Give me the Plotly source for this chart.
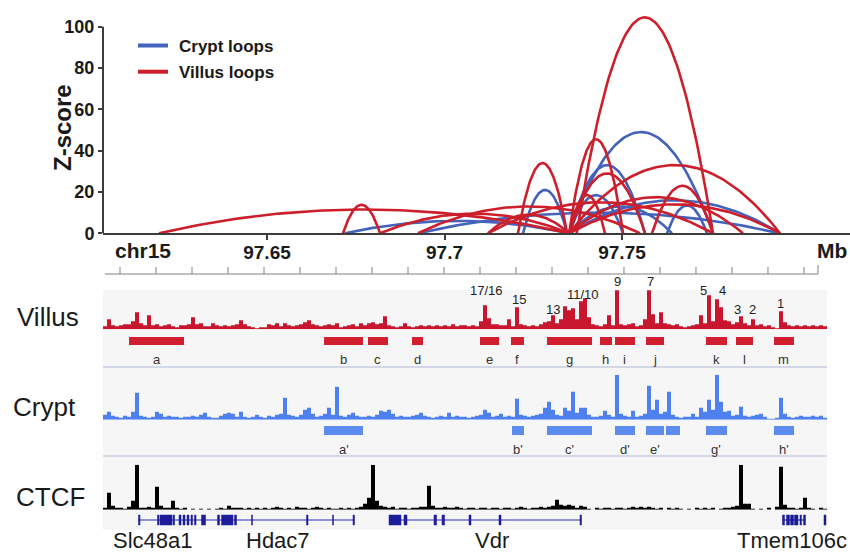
import plotly.graph_objects as go

# ---------------- data ----------------
# loops: (anchor 1 [Mb], anchor 2 [Mb], Z-score)
CRYPT_LOOPS = [
    (97.67197, 97.73510, 6.0),
    (97.72211, 97.73451, 21.0),
    (97.73510, 97.77563, 49.0),
    (97.73510, 97.75648, 33.0),
    (97.73510, 97.79451, 16.0),
    (97.76268, 97.77394, 13.5),
    (97.73510, 97.75028, 18.5),
    (97.73510, 97.76408, 13.0),
    (97.69254, 97.79451, 10.0),
]
VILLUS_LOOPS = [
    (97.61958, 97.73510, 11.5),
    (97.67141, 97.68183, 13.8),
    (97.68183, 97.73510, 9.5),
    (97.69254, 97.75507, 13.0),
    (97.71225, 97.73510, 9.0),
    (97.71225, 97.77563, 15.0),
    (97.72070, 97.73451, 34.0),
    (97.73510, 97.75028, 45.5),
    (97.73724, 97.77563, 104.5),
    (97.73510, 97.79451, 33.0),
    (97.75845, 97.77563, 23.0),
    (97.73510, 97.78408, 17.5),
    (97.73510, 97.75648, 29.0),
    (97.73510, 97.74521, 18.5),
    (97.73510, 97.79451, 14.0),
]
Z_TICKS = [0, 20, 40, 60, 80, 100]
MB_TICKS = [97.65, 97.70, 97.75]
MB_TICK_LABELS = ["97.65", "97.7", "97.75"]

# coverage tracks (bins of ~1.13 kb starting at SIGNAL_START)
SIGNAL_START = 97.60380
SIGNAL_BIN = 0.0011268
VILLUS_SIGNAL = [
    3, 10, 4, 3, 4, 5, 5, 8, 17, 6,
    4, 14, 4, 5, 3, 4, 5, 3, 2, 4,
    4, 5, 12, 5, 6, 3, 3, 6, 4, 3,
    4, 3, 4, 5, 9, 5, 3, 2, 1, 2,
    2, 5, 4, 6, 3, 6, 4, 3, 4, 5,
    7, 9, 5, 4, 3, 4, 5, 4, 6, 2,
    3, 4, 5, 3, 6, 4, 6, 7, 5, 6,
    13, 4, 3, 2, 3, 6, 3, 2, 3, 4,
    3, 4, 3, 4, 3, 4, 3, 5, 3, 4,
    4, 3, 4, 3, 8, 24, 11, 5, 5, 4,
    4, 10, 3, 22, 5, 4, 3, 4, 3, 5,
    7, 8, 14, 6, 10, 23, 19, 21, 10, 28,
    31, 12, 5, 4, 3, 5, 14, 4, 39, 5,
    4, 5, 6, 3, 4, 10, 39, 15, 6, 17,
    6, 5, 4, 5, 3, 2, 3, 4, 5, 14,
    6, 34, 8, 30, 22, 9, 8, 5, 7, 13,
    6, 4, 10, 4, 5, 3, 4, 2, 1, 18,
    7, 4, 3, 4, 3, 4, 3, 4, 3, 4, 3,
]
CRYPT_SIGNAL = [
    5, 8, 4, 3, 2, 4, 3, 8, 27, 4,
    3, 2, 3, 8, 6, 3, 4, 3, 3, 2,
    3, 3, 4, 3, 5, 7, 3, 2, 2, 4,
    6, 7, 6, 3, 8, 3, 2, 3, 5, 3,
    2, 4, 3, 5, 6, 22, 5, 4, 3, 5,
    10, 12, 6, 3, 4, 6, 12, 5, 33, 4,
    3, 5, 7, 4, 3, 3, 4, 3, 5, 9,
    8, 10, 6, 3, 4, 3, 3, 4, 5, 7,
    4, 3, 2, 3, 4, 3, 7, 3, 4, 3,
    3, 2, 3, 4, 5, 10, 7, 3, 4, 6,
    3, 4, 3, 21, 5, 4, 3, 4, 5, 6,
    12, 18, 10, 5, 4, 12, 9, 28, 7, 12,
    12, 5, 3, 3, 4, 9, 5, 3, 45, 6,
    4, 3, 9, 3, 4, 6, 34, 10, 20, 6,
    8, 28, 5, 3, 2, 3, 3, 6, 3, 12,
    8, 20, 10, 45, 18, 8, 9, 4, 5, 13,
    4, 3, 4, 5, 6, 3, 1, 0.5, 2, 22,
    6, 3, 2, 3, 4, 3, 3, 4, 3, 4, 2,
]
CTCF_SIGNAL = [
    2, 17, 4, 2, 2, 1, 3, 9, 45, 2,
    2, 3, 2, 23, 4, 2, 2, 9, 2, 1,
    2, 0, 1, 0, 1, 0, 1, 0, 1, 2,
    1, 4, 2, 2, 2, 1, 2, 1, 2, 1,
    2, 1, 2, 3, 2, 1, 2, 1, 3, 2,
    2, 1, 2, 3, 2, 1, 2, 1, 1, 2,
    1, 2, 1, 2, 3, 6, 12, 45, 9, 4,
    3, 2, 3, 1, 2, 2, 1, 2, 2, 3,
    3, 24, 4, 2, 2, 3, 2, 2, 3, 2,
    1, 2, 2, 1, 2, 2, 1, 2, 2, 1,
    2, 2, 1, 2, 3, 2, 1, 2, 2, 3,
    2, 3, 4, 10, 5, 4, 5, 4, 2, 4,
    3, 1, 0, 2, 1, 2, 2, 1, 2, 2,
    1, 2, 3, 2, 3, 2, 3, 2, 1, 2,
    0, 2, 1, 2, 1, 0, 1, 0, 2, 1,
    2, 1, 2, 0, 1, 2, 2, 3, 4, 45,
    6, 6, 1, 0, 1, 0, 2, 0, 3, 43,
    5, 2, 2, 1, 2, 12, 2, 1, 0, 2, 1,
]

VILLUS_REGIONS = [
    ("a", 97.61113, 97.62662), ("b", 97.66606, 97.67704), ("c", 97.67845, 97.68408),
    ("d", 97.69085, 97.69394), ("e", 97.71000, 97.71535), ("f", 97.71873, 97.72239),
    ("g", 97.72887, 97.74155), ("h", 97.74380, 97.74718), ("i", 97.74803, 97.75366),
    ("j", 97.75676, 97.76183), ("k", 97.77366, 97.77958), ("l", 97.78211, 97.78690),
    ("m", 97.79282, 97.79845),
]
CRYPT_REGIONS = [
    ("a'", 97.66606, 97.67704), ("b'", 97.71901, 97.72239), ("c'", 97.72887, 97.74155),
    ("d'", 97.74803, 97.75366), ("e'", 97.75676, 97.76183), ("", 97.76239, 97.76634),
    ("g'", 97.77366, 97.77958), ("h'", 97.79282, 97.79845),
]
VILLUS_PEAKS = [
    ("17/16", 97.71189), ("15", 97.72099), ("13", 97.73065), ("11/10", 97.73910),
    ("9", 97.74879), ("7", 97.75817), ("5", 97.77296), ("4", 97.77837),
    ("3", 97.78248), ("2", 97.78670), ("1", 97.79451),
]
PEAK_LABEL_Y_PX = [290, 299, 309, 294.3, 281.7, 281.7, 290, 290, 309, 309, 303.3]

GENES = [  # (name, start, end)
    ("Slc48a1", 97.61380, 97.63268),
    ("Hdac7", 97.63268, 97.67465),
    ("Vdr", 97.68437, 97.73859),
    ("Tmem106c", 97.79521, 97.80169),
]
GENE_LABELS = [("Slc48a1", 97.61789), ("Hdac7", 97.65296), ("Vdr", 97.71324), ("Tmem106c", 97.79775)]
EXONS = [
    (97.61380, 97.61423), (97.61916, 97.61958), (97.61986, 97.62324), (97.62352, 97.62394),
    (97.62521, 97.62578), (97.62634, 97.62690), (97.62747, 97.62803), (97.62859, 97.62901),
    (97.62958, 97.63000), (97.63155, 97.63268),
    (97.63606, 97.63662), (97.63718, 97.64042), (97.64085, 97.64141), (97.64563, 97.64592),
    (97.66113, 97.66155), (97.66845, 97.66873), (97.67423, 97.67465),
    (97.68437, 97.68775), (97.68859, 97.68944), (97.69704, 97.69775), (97.69930, 97.70000),
    (97.70690, 97.70747), (97.71535, 97.71592), (97.73817, 97.73859),
    (97.79521, 97.79578), (97.79634, 97.79718), (97.79747, 97.79831), (97.79859, 97.79958),
    (97.80014, 97.80056), (97.80113, 97.80169), (97.80690, 97.80747),
]
TRACK_NAMES = ["Villus", "Crypt", "CTCF"]
RULER_START = 97.60859
RULER_STEP = 0.010141
RULER_COUNT = 20

# ---------------- style / layout helpers ----------------
W, H = 850, 552
ML = 103
X_RANGE = [97.60380, 97.81423]
FONT = "Liberation Sans, Arial, sans-serif"
RED = "#cc1f2b"
BLUE = "#4262bb"
SIG_RED = "#c8162e"
SIG_BLUE = "#4f80ef"
FEAT_BLUE = "#5b8bef"
GENE_COL = "#2b2bb3"
EXON_COL = "#1c1c9a"
TXT = "#1a1a1a"


def px_x(px):
    return (px - ML) / (W - ML)


def px_y(py):
    return 1 - py / H


fig = go.Figure()


def arc_points(a, b, h, n=80):
    xs, ys = [], []
    m, half = (a + b) / 2, (b - a) / 2
    for k in range(n + 1):
        x = a + (b - a) * k / n
        u = (x - m) / half
        xs.append(x)
        ys.append(h * (1 - u * u))
    return xs, ys


for loops, col in ((CRYPT_LOOPS, BLUE), (VILLUS_LOOPS, RED)):
    for a, b, h in loops:
        xs, ys = arc_points(a, b, h)
        fig.add_trace(go.Scatter(x=xs, y=ys, mode="lines", line=dict(color=col, width=2.6),
                                 showlegend=False, hoverinfo="skip", xaxis="x", yaxis="y"))

centers = [SIGNAL_START + (i + 0.5) * SIGNAL_BIN for i in range(len(VILLUS_SIGNAL))]
for vals, col, ax in ((VILLUS_SIGNAL, SIG_RED, "y2"), (CRYPT_SIGNAL, SIG_BLUE, "y3"), (CTCF_SIGNAL, "#000000", "y4")):
    fig.add_trace(go.Bar(x=centers[:len(vals)], y=vals, width=SIGNAL_BIN, marker=dict(color=col, line=dict(width=0)),
                         showlegend=False, hoverinfo="skip", xaxis="x", yaxis=ax))

shapes = []
ann = []

# IGV panel background and separators
shapes.append(dict(type="rect", xref="paper", yref="paper", x0=0, x1=px_x(827), y0=px_y(530), y1=px_y(290),
                   fillcolor="#f6f6f6", line=dict(width=0), layer="below"))
for sy in (367, 456):
    shapes.append(dict(type="line", xref="paper", yref="paper", x0=0, x1=px_x(827), y0=px_y(sy), y1=px_y(sy),
                       line=dict(color="#c9cde0", width=1.5)))

# y-axis line (0..100)
shapes.append(dict(type="line", xref="paper", yref="y", x0=0, x1=0, y0=0, y1=100,
                   line=dict(color="#3c3c3c", width=2)))

# legend
for ly, col, name in ((45.5, BLUE, "Crypt loops"), (71.7, RED, "Villus loops")):
    shapes.append(dict(type="line", xref="paper", yref="paper", x0=px_x(138), x1=px_x(168), y0=px_y(ly), y1=px_y(ly),
                       line=dict(color=col, width=4)))
    ann.append(dict(text=name, xref="paper", yref="paper", x=px_x(177), y=px_y(ly + 1), xanchor="left", yanchor="middle",
                    showarrow=False, font=dict(family=FONT, size=17, color=TXT, weight="bold")))

# ruler
shapes.append(dict(type="line", xref="paper", yref="paper", x0=px_x(105), x1=px_x(818), y0=px_y(274), y1=px_y(274),
                   line=dict(color="#808080", width=1)))
for k in range(RULER_COUNT):
    rx = RULER_START + k * RULER_STEP
    shapes.append(dict(type="line", xref="x", yref="paper", x0=rx, x1=rx, y0=px_y(274), y1=px_y(267),
                       line=dict(color="#808080", width=1)))
shapes.append(dict(type="line", xref="paper", yref="paper", x0=px_x(818), x1=px_x(818), y0=px_y(274), y1=px_y(265),
                   line=dict(color="#808080", width=1)))

# regions
for regs, col, ytop, ybot, ylab in ((VILLUS_REGIONS, "#d11f2f", 337, 345, 359.3), (CRYPT_REGIONS, FEAT_BLUE, 426, 435, 449.3)):
    for lab, s, e in regs:
        shapes.append(dict(type="rect", xref="x", yref="paper", x0=s, x1=e, y0=px_y(ybot), y1=px_y(ytop),
                           fillcolor=col, line=dict(width=0)))
        if lab:
            ann.append(dict(text=lab, xref="x", yref="paper", x=(s + e) / 2, y=px_y(ylab), showarrow=False,
                            xanchor="center", yanchor="middle", font=dict(family=FONT, size=13, color="#333333")))

# peak numbers
for (lab, x), py in zip(VILLUS_PEAKS, PEAK_LABEL_Y_PX):
    ann.append(dict(text=lab, xref="x", yref="paper", x=x, y=px_y(py), showarrow=False,
                    xanchor="center", yanchor="middle", font=dict(family=FONT, size=13, color="#222222")))

# genes
for name, s, e in GENES:
    shapes.append(dict(type="line", xref="x", yref="paper", x0=s, x1=e, y0=px_y(520), y1=px_y(520),
                       line=dict(color=GENE_COL, width=1.2)))
for s, e in EXONS:
    shapes.append(dict(type="rect", xref="x", yref="paper", x0=s, x1=e, y0=px_y(525), y1=px_y(515),
                       fillcolor=EXON_COL, line=dict(color=EXON_COL, width=0.5)))
for name, x in GENE_LABELS:
    ann.append(dict(text=name, xref="x", yref="paper", x=x, y=px_y(540), showarrow=False,
                    xanchor="center", yanchor="middle", font=dict(family=FONT, size=22, color=TXT)))

# track names
for name, cx, cy in zip(TRACK_NAMES, (48, 44, 50), (317, 407, 497)):
    ann.append(dict(text=name, xref="paper", yref="paper", x=px_x(cx), y=px_y(cy), showarrow=False,
                    xanchor="center", yanchor="middle", font=dict(family=FONT, size=26, color=TXT)))

# axis decorations
ann.append(dict(text="chr15", xref="paper", yref="paper", x=px_x(143), y=px_y(250), showarrow=False,
                xanchor="center", yanchor="middle", font=dict(family=FONT, size=21, color=TXT, weight="bold")))
ann.append(dict(text="Mb", xref="paper", yref="paper", x=px_x(832), y=px_y(250), showarrow=False,
                xanchor="center", yanchor="middle", font=dict(family=FONT, size=21, color=TXT, weight="bold")))
ann.append(dict(text="Z-score", xref="paper", yref="paper", x=px_x(62), y=px_y(128), showarrow=False, textangle=-90,
                xanchor="center", yanchor="middle", font=dict(family=FONT, size=24, color=TXT, weight="bold")))

fig.update_layout(
    width=W, height=H, margin=dict(l=ML, r=0, t=0, b=0, autoexpand=False),
    paper_bgcolor="white", plot_bgcolor="white", barmode="overlay", showlegend=False,
    xaxis=dict(domain=[0, 1], range=X_RANGE, anchor="y", showline=True, linecolor="#3c3c3c", linewidth=2,
               ticks="outside", ticklen=5, tickwidth=1.5, tickcolor="#3c3c3c", tickvals=MB_TICKS,
               ticktext=MB_TICK_LABELS, tickfont=dict(family=FONT, size=19, color=TXT, weight="bold"),
               ticklabelstandoff=-4, showgrid=False, zeroline=False, automargin=False),
    yaxis=dict(domain=[px_y(233.3), 1], range=[0, 233.3 / 2.066], anchor="x", showline=False,
               ticks="outside", ticklen=4, tickwidth=1.5, tickcolor="#3c3c3c", tickvals=Z_TICKS,
               tickfont=dict(family=FONT, size=18, color=TXT, weight="bold"), showgrid=False, zeroline=False,
               automargin=False),
    yaxis2=dict(domain=[px_y(329.3), px_y(289.3)], range=[0, 40], anchor="x", visible=False),
    yaxis3=dict(domain=[px_y(419.7), px_y(374.7)], range=[0, 45], anchor="x", visible=False),
    yaxis4=dict(domain=[px_y(509.7), px_y(464.7)], range=[0, 45], anchor="x", visible=False),
    shapes=shapes, annotations=ann,
)

fig.write_html("out.html", config={"displayModeBar": False},
               post_script="document.body.style.margin='0';document.body.style.overflow='hidden';")
